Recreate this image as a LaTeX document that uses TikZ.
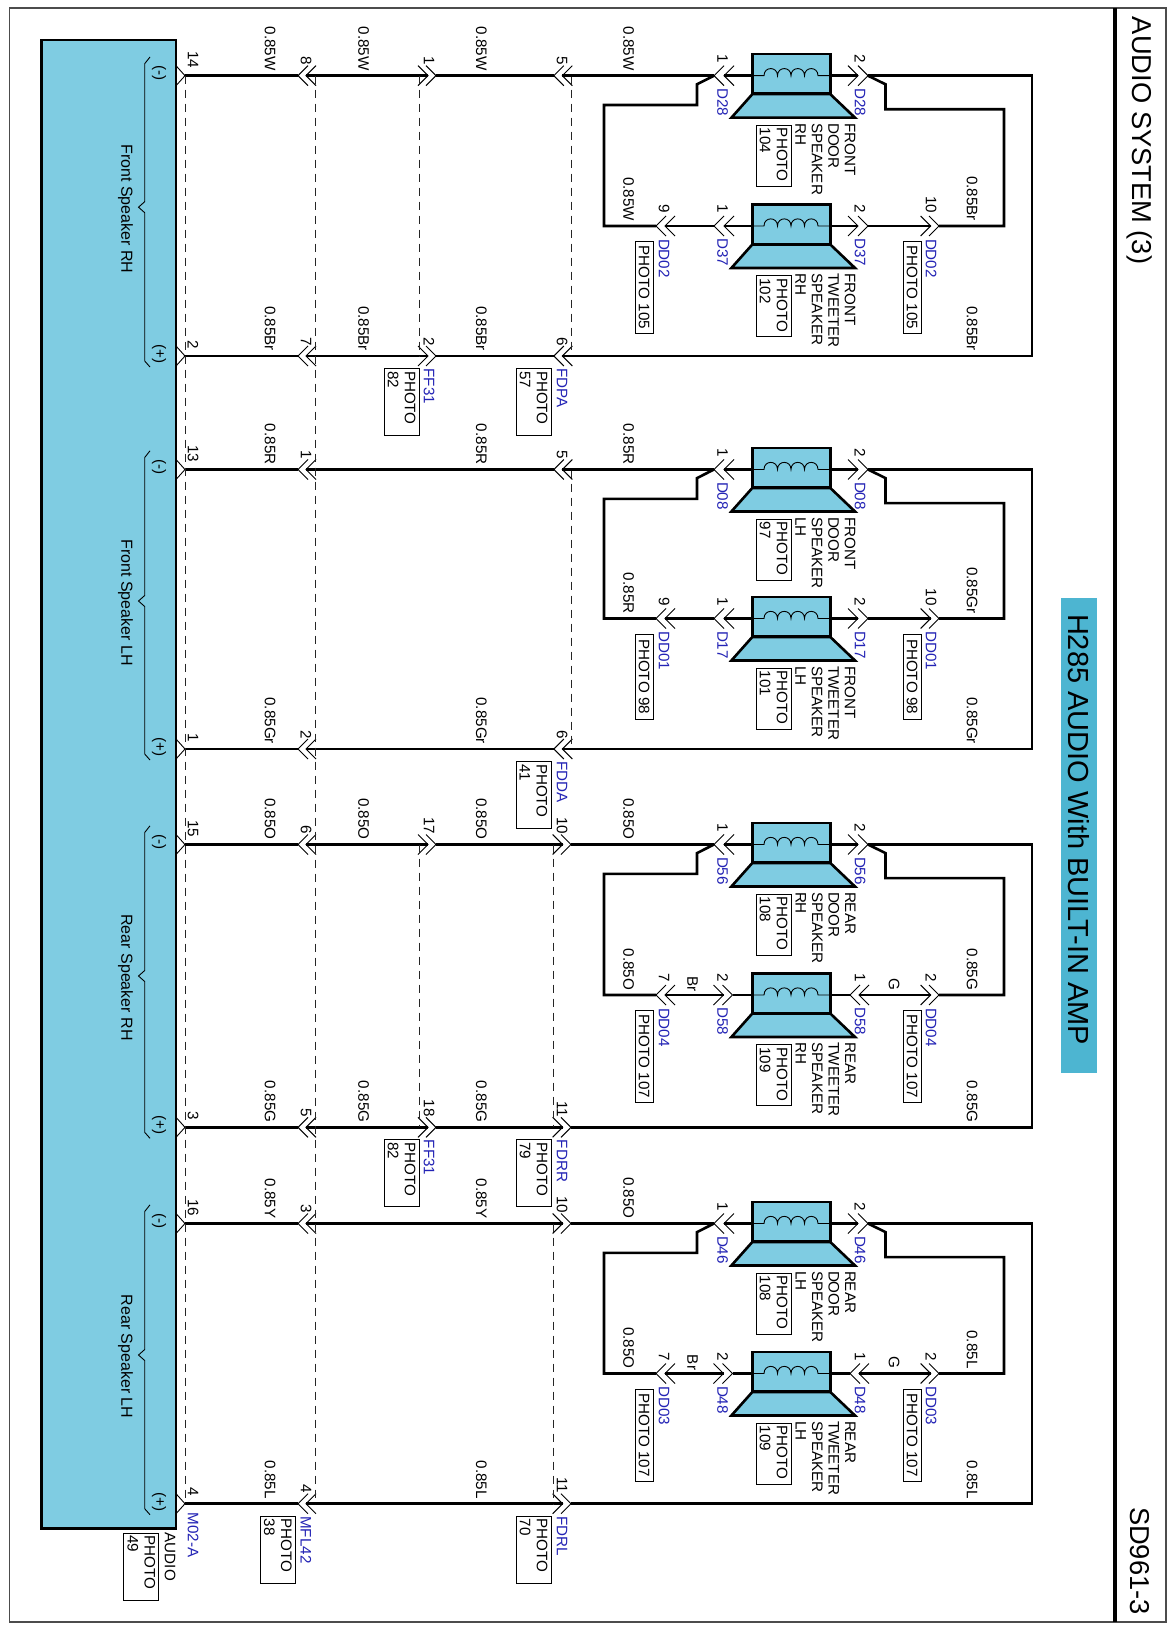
\documentclass[tikz,border=0pt]{standalone}
\usepackage{fontspec}
\setmainfont{Liberation Sans}
\definecolor{spk}{HTML}{7FCCE2}
\definecolor{ttl}{HTML}{4DB5D1}
\definecolor{tagb}{HTML}{2323B5}
\newcounter{lblc}
\tikzset{
  wire/.style={line width=2.6pt,line join=miter},
  pin/.style={line width=1pt},
  thinw/.style={line width=0.9pt},
  dashw/.style={line width=0.8pt,dash pattern=on 8pt off 6pt,draw=black!85},
  lbl/.style={font=\fontsize{15.2}{16.5}\selectfont,rotate=-90,inner sep=0pt,outer sep=0pt},
  tag/.style={lbl,text=tagb,anchor=west},
  multi/.style={lbl,align=left,anchor=north west},
  coilbox/.style={draw,fill=spk,line width=2.6pt,inner sep=0pt,outer sep=0pt,minimum width=78pt,minimum height=39.5pt,anchor=north west},
  cone/.style={draw,fill=spk,line width=2.6pt,line join=miter},
  boxml/.style={lbl,draw,line width=0.9pt,align=left,anchor=north west,inner xsep=2.5pt,inner ysep=0pt,minimum height=35pt,font=\fontsize{15.2}{17}\selectfont},
  boxsl/.style={lbl,draw,line width=0.9pt,anchor=north west,minimum height=18pt},
  big/.style={font=\fontsize{27.3}{30}\selectfont,rotate=-90,inner sep=0pt,outer sep=0pt,anchor=west},
}
% chevron: apex x, y, direction of the arms
\newcommand{\chev}[3]{\draw[pin] (#1+#3*10,#2-10) -- (#1,#2) -- (#1+#3*10,#2+10);}
% wire label, ending at given y
\newcommand{\wl}[3]{\stepcounter{lblc}\node[lbl,anchor=east] (w\arabic{lblc}) at (#1,#2-5) {#3};}
% speaker: id, y, lines, photo, tag, left number, right number
\newcommand{\spkr}[7]{%
  \draw[cone] (752.3,#2+18.5) -- (830.3,#2+18.5) -- (855,#2+42) -- (731.4,#2+42) -- cycle;
  \node[coilbox] (#1-box) at (752.3,#2-21.7) {};
  \coordinate (#1-wl) at (752.3,#2);
  \coordinate (#1-wr) at (830.3,#2);
  \draw[thinw] (#1-wl) -- (764,#2)
    .. controls (764,#2-9.5) and (777.5,#2-9.5) .. (777.5,#2)
    .. controls (777.5,#2-9.5) and (791,#2-9.5) .. (791,#2)
    .. controls (791,#2-9.5) and (804.5,#2-9.5) .. (804.5,#2)
    .. controls (804.5,#2-9.5) and (818,#2-9.5) .. (818,#2) -- (#1-wr);
  \node[multi] (#1-txt) at (855.5,#2+47.5) {#3};
  \node[boxml,text width=56pt] (#1-ph) at (791,#2+49.8) {PHOTO\\#4};
  \node[lbl,anchor=east] (#1-nl) at (722.7,#2-13) {#6};
  \node[lbl,anchor=east] (#1-nr) at (860,#2-13) {#7};
  \node[tag] (#1-tl) at (722.7,#2+12.5) {#5};
  \node[tag] (#1-tr) at (860,#2+12.5) {#5};
}
% trunk row: id, y, pin at amp, pin B, pin C (may be empty), pin D, 1 front / 0 rear
\newcommand{\row}[7]{%
  \draw[thinw] (176,#2-10) -- (185,#2) -- (176,#2+10);
  \coordinate (#1-a) at (185,#2);
  \coordinate (#1-b1) at (298,#2);
  \coordinate (#1-b2) at (306,#2);
  \coordinate (#1-bx) at (315,#2);
  \node[lbl,anchor=east] (#1-na) at (193,#2-7.5) {#3};
  \node[lbl,anchor=east] (#1-nb) at (306,#2-10.5) {#4};
  \chev{298}{#2}{1}\chev{306}{#2}{1}
  \draw[wire] (#1-a) -- (#1-b1);
  \ifnum#7=1
    \coordinate (#1-d1) at (553.8,#2);\coordinate (#1-d2) at (562.3,#2);
    \coordinate (#1-dx) at (571,#2);
    \chev{553.8}{#2}{1}\chev{562.3}{#2}{1}
  \else
    \coordinate (#1-d1) at (562.6,#2);\coordinate (#1-d2) at (571,#2);
    \coordinate (#1-dx) at (553,#2);
    \chev{571}{#2}{-1}\chev{562.6}{#2}{-1}
  \fi
  \node[lbl,anchor=east] (#1-nd) at (562,#2-10.5) {#6};
  \ifx\relax#5\relax
    \draw[wire] (#1-b2) -- (#1-d1);
  \else
    \coordinate (#1-c1) at (428,#2);\coordinate (#1-c2) at (436,#2);
    \coordinate (#1-cx) at (419,#2);
    \chev{436}{#2}{-1}\chev{428}{#2}{-1}
    \node[lbl,anchor=east] (#1-nc) at (429,#2-10.5) {#5};
    \draw[wire] (#1-b2) -- (#1-c1);
    \draw[wire] (#1-c2) -- (#1-d1);
  \fi
}
% speaker pair wiring: id, y0, y1, y2, 1 front/0 rear
\newcommand{\wiring}[5]{%
  \coordinate (#1-l1) at (714,#2);\coordinate (#1-l2) at (724,#2);
  \coordinate (#1-r1) at (858,#2);\coordinate (#1-r2) at (868,#2);
  \chev{714}{#2}{1}\chev{724}{#2}{1}\chev{858}{#2}{-1}\chev{868}{#2}{-1}
  \coordinate (#1-m1) at (656,#3);\coordinate (#1-m2) at (665,#3);
  \coordinate (#1-n1) at (930.6,#3);\coordinate (#1-n2) at (939,#3);
  \chev{656}{#3}{1}\chev{665}{#3}{1}\chev{930.6}{#3}{-1}\chev{939}{#3}{-1}
  \draw[wire] (#1-t-d2) -- (#1-l1);
  \draw[wire] (#1-l2) -- (#1-a-wl);
  \draw[wire] (#1-a-wr) -- (#1-r1);
  \draw[wire] (#1-r2) -- (1032,#2) -- (1032,#4) -- (#1-b-d2);
  \draw[wire] (#1-l1) -- (697,#2+8.6) -- (697,#2+29.3) -- (604,#2+29.3) -- (604,#3) -- (#1-m1);
  \draw[wire] (#1-r2) -- (885.5,#2+8.6) -- (885.5,#2+33.6) -- (1004,#2+33.6) -- (1004,#3) -- (#1-n2);
  \ifnum#5=1
    \coordinate (#1-p1) at (714,#3);\coordinate (#1-p2) at (724,#3);
    \coordinate (#1-q1) at (858,#3);\coordinate (#1-q2) at (868,#3);
    \chev{714}{#3}{1}\chev{724}{#3}{1}\chev{858}{#3}{-1}\chev{868}{#3}{-1}
  \else
    \coordinate (#1-p1) at (723.5,#3);\coordinate (#1-p2) at (732.5,#3);
    \coordinate (#1-q1) at (850,#3);\coordinate (#1-q2) at (859,#3);
    \chev{723.5}{#3}{-1}\chev{732.5}{#3}{-1}\chev{850}{#3}{1}\chev{859}{#3}{1}
  \fi
  \draw[wire] (#1-m2) -- (#1-p1);
  \draw[wire] (#1-p2) -- (#1-c-wl);
  \draw[wire] (#1-c-wr) -- (#1-q1);
  \draw[wire] (#1-q2) -- (#1-n1);
}
% tags and boxes at the splice connectors: id, y1, tag, photo text, length, left num, right num
\newcommand{\dd}[7]{%
  \node[lbl,anchor=east] (#1-n9) at (664,#2-13) {#6};
  \node[lbl,anchor=east] (#1-n10) at (931,#2-13) {#7};
  \node[tag] (#1-tg1) at (664,#2+13) {#3};
  \node[tag] (#1-tg2) at (931,#2+13) {#3};
  \node[boxsl,minimum width=#5pt] (#1-pb1) at (653,#2+15.5) {#4};
  \node[boxsl,minimum width=#5pt] (#1-pb2) at (921,#2+15.5) {#4};
}
% amp-side brace: id, y0, y2, (-)/(+) and title
\newcommand{\brc}[4]{%
  \draw[thinw] (150,#2-18.7) -- (144.7,#2-12) -- (144.7,#2+126) -- (138.5,#2+131.5) -- (144.7,#2+137)
     -- (144.7,#3+5) -- (150,#3+11);
  \node[lbl] (#1-minus) at (159,#2-2.5) {(-)};
  \node[lbl] (#1-plus) at (159,#3-2) {(+)};
  \node[lbl,font=\fontsize{16}{17}\selectfont] (#1-name) at (125.5,#2+133) {#4};
}
% wire-side foot: id, tag x, box right, y, tag, ref
\newcommand{\foot}[6]{%
  \node[tag] (#1-tag) at (#2,#4+12.5) {#5};
  \node[boxml,text width=62pt] (#1-box) at (#3,#4+12.5) {PHOTO\\#6};
}
\begin{document}
\begin{tikzpicture}[x=1pt,y=-1pt]
\useasboundingbox (0,0) rectangle (1174,1632);
\fill[white] (0,0) rectangle (1174,1632);
% frame
\draw[line width=1.2pt,draw=black!70] (9.6,8) rectangle (1166,1622);
\draw[line width=4pt] (1115,8) -- (1115,1622);
\node[big] (title) at (1140,17) {AUDIO SYSTEM (3)};
\node[big] (code) at (1140,1507) {SD961-3};
\node[fill=ttl,minimum width=475pt,minimum height=35.5pt,inner sep=0pt,outer sep=0pt,anchor=north west,rotate=-90] (bar) at (1096.5,598) {};
\node[big,font=\fontsize{29}{30}\selectfont] (bartxt) at (1079,614) {H285 AUDIO With BUILT-IN AMP};
% amp
\node[draw,fill=spk,line width=2.8pt,inner sep=0pt,outer sep=0pt,minimum width=134.7pt,minimum height=1488.7pt,anchor=north west] (amp) at (41.3,40) {};
% rows
\row{g1-t}{75.7}{14}{8}{1}{5}{1}
\row{g1-b}{356}{2}{7}{2}{6}{1}
\row{g2-t}{469.5}{13}{1}{}{5}{1}
\row{g2-b}{749}{1}{2}{}{6}{1}
\row{g3-t}{844.5}{15}{6}{17}{10}{0}
\row{g3-b}{1127.3}{3}{5}{18}{11}{0}
\row{g4-t}{1223.5}{16}{3}{}{10}{0}
\row{g4-b}{1503.7}{4}{4}{}{11}{0}
% dashed
\draw[dashw] (g1-t-a) -- (g4-b-a);
\draw[dashw] (g1-t-bx) -- (g4-b-bx);
\draw[dashw] (g1-t-cx) -- (g1-b-cx);
\draw[dashw] (g3-t-cx) -- (g3-b-cx);
\draw[dashw] (g1-t-dx) -- (g1-b-dx);
\draw[dashw] (g2-t-dx) -- (g2-b-dx);
\draw[dashw] (g3-t-dx) -- (g3-b-dx);
\draw[dashw] (g4-t-dx) -- (g4-b-dx);
% speakers
\spkr{g1-a}{75.7}{FRONT\\DOOR\\SPEAKER\\RH}{104}{D28}{1}{2}
\spkr{g1-c}{226}{FRONT\\TWEETER\\SPEAKER\\RH}{102}{D37}{1}{2}
\spkr{g2-a}{469.5}{FRONT\\DOOR\\SPEAKER\\LH}{97}{D08}{1}{2}
\spkr{g2-c}{618.5}{FRONT\\TWEETER\\SPEAKER\\LH}{101}{D17}{1}{2}
\spkr{g3-a}{844.5}{REAR\\DOOR\\SPEAKER\\RH}{108}{D56}{1}{2}
\spkr{g3-c}{995}{REAR\\TWEETER\\SPEAKER\\RH}{109}{D58}{2}{1}
\spkr{g4-a}{1223.5}{REAR\\DOOR\\SPEAKER\\LH}{108}{D46}{1}{2}
\spkr{g4-c}{1373.5}{REAR\\TWEETER\\SPEAKER\\LH}{109}{D48}{2}{1}
% wiring
\wiring{g1}{75.7}{226}{356}{1}
\wiring{g2}{469.5}{618.5}{749}{1}
\wiring{g3}{844.5}{995}{1127.3}{0}
\wiring{g4}{1223.5}{1373.5}{1503.7}{0}
% splice tags
\dd{g1}{226}{DD02}{PHOTO 105}{92}{9}{10}
\dd{g2}{618.5}{DD01}{PHOTO 98}{85}{9}{10}
\dd{g3}{995}{DD04}{PHOTO 107}{92}{7}{2}
\dd{g4}{1373.5}{DD03}{PHOTO 107}{92}{7}{2}
\node[lbl] (br3) at (692.5,984) {Br};
\node[lbl] (gg3) at (894,984) {G};
\node[lbl] (br4) at (692.5,1362.5) {Br};
\node[lbl] (gg4) at (894,1362.5) {G};
% braces
\brc{g1}{75.7}{356}{Front Speaker RH}
\brc{g2}{469.5}{749}{Front Speaker LH}
\brc{g3}{844.5}{1127.3}{Rear Speaker RH}
\brc{g4}{1223.5}{1503.7}{Rear Speaker LH}
% wire labels group 1
\wl{270}{75.7}{0.85W}\wl{363.6}{75.7}{0.85W}\wl{481.4}{75.7}{0.85W}\wl{628.6}{75.7}{0.85W}
\wl{628.6}{226}{0.85W}\wl{972}{226}{0.85Br}
\wl{270}{356}{0.85Br}\wl{363.6}{356}{0.85Br}\wl{481.4}{356}{0.85Br}\wl{972}{356}{0.85Br}
% group 2
\wl{270}{469.5}{0.85R}\wl{481.4}{469.5}{0.85R}\wl{628.6}{469.5}{0.85R}
\wl{628.6}{618.5}{0.85R}\wl{972}{618.5}{0.85Gr}
\wl{270}{749}{0.85Gr}\wl{481.4}{749}{0.85Gr}\wl{972}{749}{0.85Gr}
% group 3
\wl{270}{844.5}{0.85O}\wl{363.6}{844.5}{0.85O}\wl{481.4}{844.5}{0.85O}\wl{628.6}{844.5}{0.85O}
\wl{628.6}{995}{0.85O}\wl{972}{995}{0.85G}
\wl{270}{1127.3}{0.85G}\wl{363.6}{1127.3}{0.85G}\wl{481.4}{1127.3}{0.85G}\wl{972}{1127.3}{0.85G}
% group 4
\wl{270}{1223.5}{0.85Y}\wl{481.4}{1223.5}{0.85Y}\wl{628.6}{1223.5}{0.85O}
\wl{628.6}{1373.5}{0.85O}\wl{972}{1373.5}{0.85L}
\wl{270}{1503.7}{0.85L}\wl{481.4}{1503.7}{0.85L}\wl{972}{1503.7}{0.85L}
% feet
\foot{ff1}{429}{419}{356}{FF31}{82}
\foot{fd1}{562}{551}{356}{FDPA}{57}
\foot{fd2}{562}{551}{749}{FDDA}{41}
\foot{ff3}{429}{419}{1127.3}{FF31}{82}
\foot{fd3}{562}{551}{1127.3}{FDRR}{79}
\foot{mf4}{306}{295.4}{1503.7}{MFL42}{38}
\foot{fd4}{562}{551}{1503.7}{FDRL}{70}
\node[tag] (m02) at (193,1512.7) {M02-A};
\node[lbl,anchor=west] (audio) at (170,1532.7) {AUDIO};
\node[boxml,text width=62pt] (audbox) at (158.8,1533) {PHOTO\\49};
\end{tikzpicture}
\end{document}
